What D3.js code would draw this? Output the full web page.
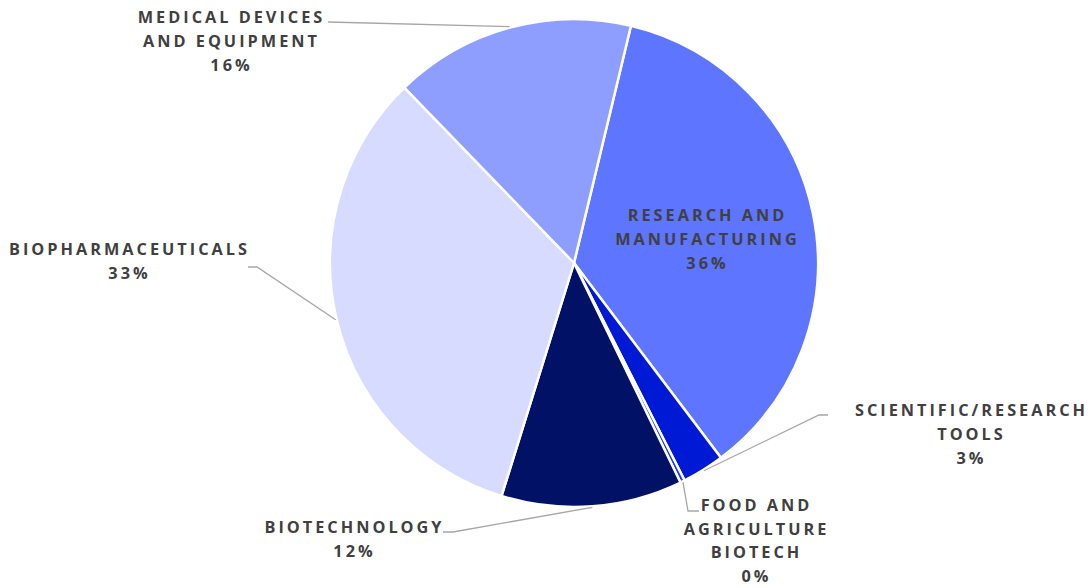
<!DOCTYPE html>
<html>
<head>
<meta charset="utf-8">
<title>Pie</title>
<script src="https://d3js.org/d3.v7.min.js"></script>
<style>
body { margin: 0; background: #fff; }
text { font-family: "Open Sans", sans-serif; font-weight: 700; fill: #404040; }
</style>
</head>
<body>
<div id="chart"></div>
<script>
var categories = ["RESEARCH AND MANUFACTURING", "SCIENTIFIC/RESEARCH TOOLS", "FOOD AND AGRICULTURE BIOTECH", "BIOTECHNOLOGY", "BIOPHARMACEUTICALS", "MEDICAL DEVICES AND EQUIPMENT"];
var values = [36.0, 2.8, 0.3, 12.0, 33.0, 16.0];
var pctLabels = ["36%", "3%", "0%", "12%", "33%", "16%"];
var labelLines = [
  ["RESEARCH AND", "MANUFACTURING"],
  ["SCIENTIFIC/RESEARCH", "TOOLS"],
  ["FOOD AND", "AGRICULTURE", "BIOTECH"],
  ["BIOTECHNOLOGY"],
  ["BIOPHARMACEUTICALS"],
  ["MEDICAL DEVICES", "AND EQUIPMENT"]
];
var colors = ["#5e75ff", "#0019d4", "#1f3be8", "#001166", "#d6dbff", "#8e9eff"];

// label placement (layout only)
var labelPos = [
  {x: 706, y: 221, lead: null},
  {x: 970, y: 416, lead: [[828, 415], [819, 415]]},
  {x: 755, y: 511, lead: [[699, 511], [688, 511]], lh: 23.6},
  {x: 353, y: 533, lead: [[443, 532], [453, 532]]},
  {x: 128, y: 255, lead: [[248, 267], [257, 267]]},
  {x: 230, y: 23, lead: [[328, 22]]}
];

var width = 1091, height = 588;
var cx = 574, cy = 263, r = 244;

var svg = d3.select("#chart").append("svg").attr("width", width).attr("height", height);

var pie = d3.pie().sort(null).value(function(d) { return d; })
  .startAngle(13.5 * Math.PI / 180).endAngle(13.5 * Math.PI / 180 + 2 * Math.PI);
var arcs = pie(values);
var arc = d3.arc().innerRadius(0).outerRadius(r);

var g = svg.append("g").attr("transform", "translate(" + cx + "," + cy + ")");
g.selectAll("path.slice").data(arcs).enter().append("path")
  .attr("class", "slice")
  .attr("d", arc)
  .attr("fill", function(d, i) { return colors[i]; })
  .attr("stroke", "#fff")
  .attr("stroke-width", 2.5)
  .attr("stroke-linejoin", "round");

// leader lines
arcs.forEach(function(d, i) {
  var p = labelPos[i];
  if (!p.lead) return;
  var mid = (d.startAngle + d.endAngle) / 2;
  var end = [cx + (r + 1) * Math.sin(mid), cy - (r + 1) * Math.cos(mid)];
  var pts = p.lead.concat([end]);
  svg.append("path")
    .attr("d", d3.line()(pts))
    .attr("fill", "none")
    .attr("stroke", "#a6a6a6")
    .attr("stroke-width", 1.3);
});

// labels
arcs.forEach(function(d, i) {
  var p = labelPos[i];
  var lh = p.lh || 24.2;
  var lines = labelLines[i].concat([pctLabels[i]]);
  var t = svg.append("text")
    .attr("text-anchor", "middle")
    .style("font-size", "16.3px")
    .style("letter-spacing", "3px");
  lines.forEach(function(s, k) {
    t.append("tspan").attr("x", p.x + 1.5).attr("y", p.y + k * lh).text(s);
  });
});
</script>
</body>
</html>
